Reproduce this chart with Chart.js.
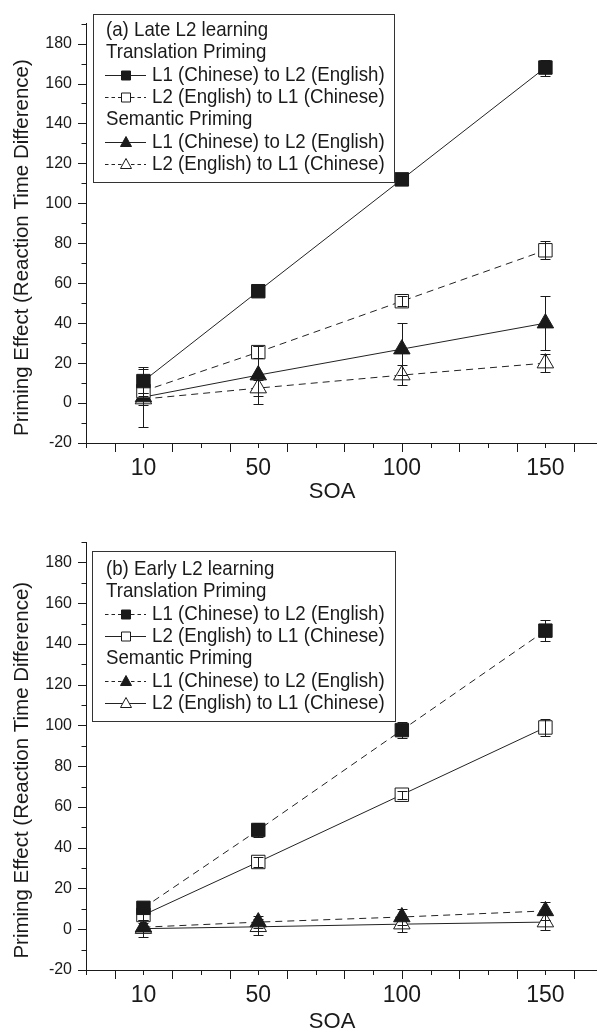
<!DOCTYPE html>
<html><head><meta charset="utf-8">
<script src="https://cdn.jsdelivr.net/npm/chart.js@4.4.1/dist/chart.umd.min.js"></script>
<style>
html,body{margin:0;padding:0;background:#fff;overflow:hidden;width:607px;height:1029px}
canvas{position:absolute;left:0}
#c1{top:0}
#c2{top:515px}
</style></head><body>
<canvas id="c1" width="607" height="515"></canvas>
<canvas id="c2" width="607" height="530"></canvas>
<script>
// ---------- data ----------
const soa = [10, 50, 100, 150];
const xTickLabels = ['10', '50', '100', '150'];
const yTickValues = [-20, 0, 20, 40, 60, 80, 100, 120, 140, 160, 180];
const seriesNames = ['L1 (Chinese) to L2 (English)', 'L2 (English) to L1 (Chinese)'];
const groupNames = ['Translation Priming', 'Semantic Priming'];
const panelTitles = ['(a) Late L2 learning', '(b) Early L2 learning'];
const xTitle = 'SOA';
const yTitle = 'Priming Effect (Reaction Time Difference)';

// (a) Late L2 learning
const lateTransL1L2 = [11, 56, 112, 168];
const lateTransL1L2Err = [6, 2, 3, 4];
const lateTransL2L1 = [6, 25.5, 51, 76.5];
const lateTransL2L1Err = [2.5, 3, 2.5, 4.5];
const lateSemL1L2 = [3, 14, 27, 40];
const lateSemL1L2Err = [15, 14.5, 13, 13.5];
const lateSemL2L1 = [2, 7.5, 14, 20];
const lateSemL2L1Err = [3, 4, 5, 4.5];

// (b) Early L2 learning
const earlyTransL1L2 = [10.5, 48.7, 97.7, 146.5];
const earlyTransL1L2Err = [2.5, 3.3, 4, 5];
const earlyTransL2L1 = [7, 33, 66, 99];
const earlyTransL2L1Err = [2.5, 2.5, 2, 4];
const earlySemL1L2 = [1, 3.5, 6, 9];
const earlySemL1L2Err = [2, 3, 3.8, 4.5];
const earlySemL2L1 = [0.3, 1.2, 2.5, 3.5];
const earlySemL2L1Err = [4, 4, 3.7, 4];

// ---------- styling ----------
const FONT = 'Liberation Sans, Arial, Helvetica, sans-serif';
const INK = '#1a1a1a';
const DASH = [7, 5];
const NB = '\u00a0';

function pts(vals) { return vals.map((v, i) => ({ x: soa[i], y: v })); }

function ds(label, vals, errs, style, filled, dashed) {
  return {
    label, data: pts(vals), errors: errs,
    borderColor: '#222', borderWidth: 1, borderDash: dashed ? DASH : [],
    pointStyle: style, pointRadius: 9.5,
    pointBackgroundColor: filled ? INK : '#fff', pointBorderColor: INK, pointBorderWidth: 1,
    fill: false, tension: 0, clip: false,
    legendFilled: filled, legendDashed: dashed
  };
}

// error bars
const errorBars = {
  id: 'errorBars',
  afterDatasetsDraw(chart) {
    const ctx = chart.ctx, ys = chart.scales.y;
    ctx.save();
    ctx.strokeStyle = INK; ctx.lineWidth = 1;
    chart.data.datasets.forEach((d, i) => {
      const meta = chart.getDatasetMeta(i);
      meta.data.forEach((p, j) => {
        const v = d.data[j].y, e = d.errors[j];
        const x = Math.round(p.x) + 0.5;
        const yt = Math.round(ys.getPixelForValue(v + e)) + 0.5;
        const yb = Math.round(ys.getPixelForValue(v - e)) + 0.5;
        ctx.beginPath();
        ctx.moveTo(x, yt); ctx.lineTo(x, yb);
        ctx.moveTo(x - 5, yt); ctx.lineTo(x + 5, yt);
        ctx.moveTo(x - 5, yb); ctx.lineTo(x + 5, yb);
        ctx.stroke();
      });
    });
    ctx.restore();
  }
};

// tick marks (major every 20, minor every 10)
const tickMarks = {
  id: 'tickMarks',
  afterDraw(chart) {
    const ctx = chart.ctx, xs = chart.scales.x, ys = chart.scales.y;
    ctx.save();
    ctx.strokeStyle = INK; ctx.lineWidth = 1;
    ctx.beginPath();
    xs.ticks.forEach(t => {
      const v = Math.round(t.value * 1000) / 1000;
      if (v % 10 !== 0) return;
      const px = Math.round(xs.getPixelForValue(v)) + 0.5;
      const len = (v % 20 === 0) ? 9 : 5;
      ctx.moveTo(px, xs.top); ctx.lineTo(px, xs.top + len);
    });
    ys.ticks.forEach(t => {
      const v = Math.round(t.value * 1000) / 1000;
      if (v % 10 !== 0) return;
      const py = Math.round(ys.getPixelForValue(v)) + 0.5;
      const len = (v % 20 === 0) ? 8 : 4.5;
      ctx.moveTo(ys.right - len, py); ctx.lineTo(ys.right, py);
    });
    ctx.stroke();
    ctx.restore();
  }
};

// legend box drawn on canvas
function legendPlugin(box, firstY, step, panelTitle) {
  return {
    id: 'boxLegend',
    afterDraw(chart) {
      const ctx = chart.ctx;
      const dsets = chart.data.datasets;
      const lines = [
        { text: panelTitle },
        { text: groupNames[0] },
        { text: dsets[0].label, d: dsets[0] },
        { text: dsets[1].label, d: dsets[1] },
        { text: groupNames[1] },
        { text: dsets[2].label, d: dsets[2] },
        { text: dsets[3].label, d: dsets[3] }
      ];
      ctx.save();
      ctx.strokeStyle = '#333'; ctx.lineWidth = 1;
      ctx.fillStyle = '#fff';
      ctx.fillRect(box[0], box[1], box[2] - box[0], box[3] - box[1]);
      ctx.strokeRect(box[0] + 0.5, box[1] + 0.5, box[2] - box[0], box[3] - box[1]);
      ctx.fillStyle = INK;
      ctx.font = '21px ' + FONT;
      ctx.textBaseline = 'middle';
      lines.forEach((ln, k) => {
        const y = firstY + k * step;
        let tx = 106;
        if (ln.d) {
          const d = ln.d;
          ctx.save();
          ctx.strokeStyle = '#222'; ctx.lineWidth = 1;
          ctx.setLineDash(d.legendDashed ? [3.5, 3] : []);
          ctx.beginPath();
          ctx.moveTo(105, Math.round(y) + 0.5); ctx.lineTo(146, Math.round(y) + 0.5);
          ctx.stroke();
          ctx.setLineDash([]);
          ctx.fillStyle = d.legendFilled ? INK : '#fff';
          ctx.strokeStyle = INK;
          const cx = 126, cy = Math.round(y) + 0.5;
          ctx.beginPath();
          if (d.pointStyle === 'rect') {
            ctx.rect(cx - 4.5, cy - 4.5, 9, 9);
          } else {
            ctx.moveTo(cx, cy - 6); ctx.lineTo(cx + 5.5, cy + 4); ctx.lineTo(cx - 5.5, cy + 4); ctx.closePath();
          }
          ctx.fill(); ctx.stroke();
          ctx.restore();
          tx = 152;
        }
        ctx.save();
        ctx.translate(tx, y);
        ctx.scale(0.89, 1);
        ctx.fillText(ln.text, 0, 0);
        ctx.restore();
      });
      ctx.restore();
    }
  };
}

function makeChart(id, datasets, padTop, xAxisHeight, panelTitle, box, firstY) {
  return new Chart(document.getElementById(id), {
    type: 'line',
    data: { datasets },
    options: {
      responsive: false, animation: false, events: [],
      layout: { padding: { left: 0, right: 0, top: padTop, bottom: 0 } },
      plugins: { legend: { display: false }, tooltip: { enabled: false } },
      scales: {
        x: {
          type: 'linear', min: -10, max: 167.8,
          grid: { display: false, drawTicks: false },
          border: { display: true, color: INK, width: 1 },
          ticks: {
            stepSize: 10, autoSkip: false, maxRotation: 0, includeBounds: false,
            color: INK, font: { family: FONT, size: 23 }, padding: 12,
            callback: v => { const i = soa.indexOf(v); return i >= 0 ? xTickLabels[i] : ''; }
          },
          title: { display: true, text: xTitle + NB.repeat(3), color: INK, font: { family: FONT, size: 22 }, padding: { top: 0, bottom: 10 } },
          afterFit: s => { s.height = xAxisHeight; }
        },
        y: {
          type: 'linear', min: -20, max: 190,
          grid: { display: false, drawTicks: false },
          border: { display: true, color: INK, width: 1 },
          ticks: {
            stepSize: 10, autoSkip: false, includeBounds: false,
            color: INK, font: { family: FONT, size: 16 }, padding: 14,
            callback: v => yTickValues.includes(v) ? String(v) : ''
          },
          title: { display: true, text: yTitle + NB.repeat(5), color: INK, font: { family: FONT, size: 20.5 }, padding: { top: 10, bottom: 0 } },
          afterFit: s => { s.width = 86; }
        }
      }
    },
    plugins: [errorBars, tickMarks, legendPlugin(box, firstY, 22.4, panelTitle)]
  });
}

makeChart('c1', [
  ds(seriesNames[0], lateTransL1L2, lateTransL1L2Err, 'rect', true, false),
  ds(seriesNames[1], lateTransL2L1, lateTransL2L1Err, 'rect', false, true),
  ds(seriesNames[0], lateSemL1L2, lateSemL1L2Err, 'triangle', true, false),
  ds(seriesNames[1], lateSemL2L1, lateSemL2L1Err, 'triangle', false, true)
], 16, 72, panelTitles[0], [93, 14, 394, 182], 30);

makeChart('c2', [
  ds(seriesNames[0], earlyTransL1L2, earlyTransL1L2Err, 'rect', true, true),
  ds(seriesNames[1], earlyTransL2L1, earlyTransL2L1Err, 'rect', false, false),
  ds(seriesNames[0], earlySemL1L2, earlySemL1L2Err, 'triangle', true, true),
  ds(seriesNames[1], earlySemL2L1, earlySemL2L1Err, 'triangle', false, false)
], 27, 75, panelTitles[1], [92, 36, 395, 206], 54);
</script>
</body></html>
